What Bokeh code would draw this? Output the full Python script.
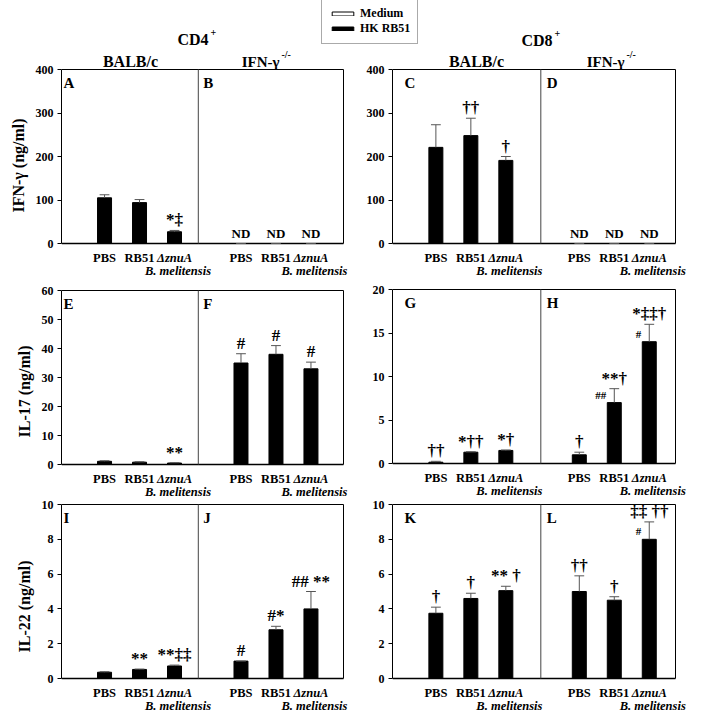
from bokeh.plotting import figure
from bokeh.models import Range1d, FixedTicker, Legend, LegendItem, ColumnDataSource
from bokeh.layouts import column, row
from bokeh.embed import file_html
from bokeh.resources import INLINE
from bokeh.core.properties import value

FONT = "Liberation Serif"

# ---------------- data ----------------
categories = ["PBS", "RB51", "ΔznuA"]
category_styles = ["bold", "bold", "bold italic"]
species_note = "B. melitensis"
series_names = ["Medium", "HK RB51"]
medium_values = [0, 0, 0]
group_titles = ["CD4", "CD8"]
strain_titles = ["BALB/c", "IFN-γ"]
ko_superscript = "-/-"

# IFN-gamma (ng/ml)
cd4_ifng_balb = [105, 94, 27]
cd4_ifng_balb_err = [7, 7, 3]
cd4_ifng_ko = [0, 0, 0]          # ND
cd4_ifng_ko_err = [0, 0, 0]
cd8_ifng_balb = [221, 248, 191]
cd8_ifng_balb_err = [52, 40, 9]
cd8_ifng_ko = [0, 0, 0]          # ND
cd8_ifng_ko_err = [0, 0, 0]

# IL-17 (ng/ml)
cd4_il17_balb = [1.1, 0.8, 0.5]
cd4_il17_balb_err = [0.2, 0.15, 0.1]
cd4_il17_ko = [35, 38, 33]
cd4_il17_ko_err = [3.2, 3.0, 2.3]
cd8_il17_balb = [0.15, 1.3, 1.5]
cd8_il17_balb_err = [0.1, 0.05, 0.05]
cd8_il17_ko = [1.0, 7.0, 14.0]
cd8_il17_ko_err = [0.3, 1.6, 2.0]

# IL-22 (ng/ml)
cd4_il22_balb = [0.36, 0.52, 0.72]
cd4_il22_balb_err = [0.03, 0.02, 0.05]
cd4_il22_ko = [1.0, 2.8, 4.0]
cd4_il22_ko_err = [0.0, 0.2, 1.0]
cd8_il22_balb = [3.75, 4.6, 5.05]
cd8_il22_balb_err = [0.35, 0.3, 0.25]
cd8_il22_ko = [5.0, 4.5, 8.0]
cd8_il22_ko_err = [0.9, 0.2, 1.0]

# significance marks
marks_A = ["", "", "*‡"]
marks_B = ["", "", ""]
marks_C = ["", "††", "†"]
marks_D = ["", "", ""]
marks_E = ["", "", "**"]
marks_F = ["#", "#", "#"]
marks_G = ["††", "*††", "*†"]
marks_H = ["†", "**†", "*‡‡†"]
side_H = ["", "##", "#"]
marks_I = ["", "**", "**‡‡"]
marks_J = ["#", "#*", "## **"]
marks_K = ["†", "†", "** †"]
marks_L = ["††", "†", "‡‡ ††"]
side_L = ["", "", "#"]
nd_text = "ND"

# ---------------- layout helpers ----------------
LEFT = dict(width=355, bl=61, frame_w=282, xr=(-0.23, 7.83), divider=3.68,
            offsets=(0.0, 3.9), letter_dx=(2, 5), frame_left=61,
            balb_x=130, ko_right=279)
RIGHT = dict(width=341, bl=37, frame_w=283, xr=(-0.24, 7.85), divider=4.0,
             offsets=(0.0, 4.1), letter_dx=(12, 6), frame_left=392,
             balb_x=476, ko_right=624)
base_pos = [1, 2, 3]
BAR_W = 0.4
VAL_H = 174   # pixel height of the value area of every panel


def make_fig(g, height, top_ext, ymax, yticks, ylabel, panels, titles=False):
    upp = ymax / VAL_H                  # data units per pixel (vertical)
    y_end = ymax + top_ext * upp
    y_start = y_end - height * upp
    x0, x1 = g["xr"]
    xpp = (x1 - x0) / g["frame_w"]      # data units per pixel (horizontal)
    x_end = x0 + (g["width"] - g["bl"]) * xpp
    p = figure(width=g["width"], height=height, title=None,
               x_range=Range1d(x0, x_end), y_range=Range1d(y_start, y_end),
               x_axis_location=None,
               output_backend="svg", toolbar_location=None,
               min_border_left=g["bl"], min_border_right=0,
               min_border_top=0, min_border_bottom=0)
    p.grid.visible = False
    p.outline_line_color = None
    p.background_fill_color = "white"
    p.border_fill_color = "white"

    ya = p.yaxis[0]
    ya.ticker = FixedTicker(ticks=yticks)
    ya.bounds = (0, ymax)
    ya.major_tick_in = 0
    ya.major_tick_out = 4
    ya.minor_tick_line_color = None
    ya.axis_line_color = "black"
    ya.major_tick_line_color = "black"
    ya.major_label_text_font = FONT
    ya.major_label_text_font_style = "bold"
    ya.major_label_text_font_size = "12px"
    ya.major_label_text_color = "black"
    ya.major_label_standoff = 4
    if ylabel:
        ya.axis_label = ylabel
        ya.axis_label_text_font = FONT
        ya.axis_label_text_font_style = "bold"
        ya.axis_label_text_font_size = "16px"
        ya.axis_label_text_color = "black"
        ya.axis_label_standoff = 6

    # panel box: top and right edges, bottom axis line, divider
    p.segment(x0=[x0, x1], y0=[ymax, 0], x1=[x1, x1], y1=[ymax, ymax],
              line_color="black", line_width=1)
    p.segment(x0=[x0], y0=[0], x1=[x1], y1=[0], line_color="black", line_width=1.5)
    p.segment(x0=[g["divider"]], y0=[0], x1=[g["divider"]], y1=[ymax],
              line_color="#444444", line_width=1)

    if titles:
        def px_to_x(px):
            return x0 + (px - g["frame_left"]) * xpp
        p.text(x=[px_to_x(g["balb_x"])], y=[ymax + 8 * upp], text=[strain_titles[0]],
               text_font=value(FONT), text_font_style="bold", text_font_size="16px",
               text_align="center", text_baseline="alphabetic", text_color="black")
        p.text(x=[px_to_x(g["ko_right"])], y=[ymax + 8 * upp], text=[strain_titles[1]],
               text_font=value(FONT), text_font_style="bold", text_font_size="15px",
               text_align="right", text_baseline="alphabetic", text_color="black")
        p.text(x=[px_to_x(g["ko_right"] + 2)], y=[ymax + 15 * upp], text=[ko_superscript],
               text_font=value(FONT), text_font_style="bold", text_font_size="10px",
               text_align="left", text_baseline="alphabetic", text_color="black")

    for k, pan in enumerate(panels):
        off = g["offsets"][k]
        xs = [b + off for b in base_pos]
        xs_med = [x - BAR_W for x in xs]
        vals = pan["vals"]
        errs = pan["errs"]
        tops = [v + e for v, e in zip(vals, errs)]

        p.vbar(x=xs_med, top=medium_values, width=BAR_W,
               fill_color="white", line_color="black", line_width=1)
        p.vbar(x=xs, top=vals, width=BAR_W,
               fill_color="black", line_color="black", line_width=1)
        # error bars (upper half only)
        p.segment(x0=xs, y0=vals, x1=xs, y1=tops, line_color="#555555", line_width=1)
        p.segment(x0=[x - 0.14 for x in xs], y0=tops, x1=[x + 0.14 for x in xs], y1=tops,
                  line_color="#555555", line_width=1)

        if pan.get("nd"):
            p.text(x=xs, y=[0] * 3, text=[nd_text] * 3,
                   text_font=value(FONT), text_font_style="bold", text_font_size="13px",
                   text_align="center", text_baseline="bottom", y_offset=-3,
                   text_color="black")
        p.text(x=xs, y=tops, text=pan["marks"],
               text_font=value(FONT), text_font_style="bold", text_font_size="17px",
               text_align="center", text_baseline="bottom", y_offset=-1,
               text_color="black")
        if pan.get("side"):
            p.text(x=[x - BAR_W / 2 for x in xs], y=vals, text=pan["side"],
                   text_font=value(FONT), text_font_style="bold", text_font_size="11px",
                   text_align="right", text_baseline="bottom", x_offset=-1, y_offset=-2,
                   text_color="black")

        # panel letter
        left_edge = x0 if k == 0 else g["divider"]
        p.text(x=[left_edge], y=[ymax], text=[pan["letter"]],
               text_font=value(FONT), text_font_style="bold", text_font_size="15px",
               text_align="left", text_baseline="top",
               x_offset=g["letter_dx"][k], y_offset=5, text_color="black")

        # category labels below the axis
        src = ColumnDataSource(dict(x=xs, y=[-14.5 * upp] * 3, text=categories,
                                    style=category_styles))
        p.text(x="x", y="y", text="text", text_font_style="style", source=src,
               text_font=value(FONT), text_font_size="12.5px",
               text_align="center", text_baseline="alphabetic", text_color="black")
        p.text(x=[xs[2] + 0.1], y=[-27 * upp], text=[species_note],
               text_font=value(FONT), text_font_style="bold italic", text_font_size="12.5px",
               text_align="center", text_baseline="alphabetic", text_color="black")
    return p


# ---------------- header ----------------
HW, HH = 696, 46
hdr = figure(width=HW, height=HH, title=None, x_range=Range1d(0, HW), y_range=Range1d(HH, 0),
             output_backend="svg", toolbar_location=None,
             x_axis_location=None, y_axis_location=None,
             min_border_left=0, min_border_right=0, min_border_top=0, min_border_bottom=0)
hdr.grid.visible = False
hdr.outline_line_color = None
hdr.background_fill_color = "white"
hdr.border_fill_color = "white"

hdr.text(x=[208, 552], y=[39, 40], text=group_titles,
         text_font=value(FONT), text_font_style="bold", text_font_size="16px",
         text_align="right", text_baseline="alphabetic", text_color="black")
hdr.text(x=[210, 554], y=[32, 33], text=["+", "+"],
         text_font=value(FONT), text_font_style="bold", text_font_size="10px",
         text_align="left", text_baseline="alphabetic", text_color="black")

# legend swatch renderers (zero-size bars, only their styles are used)
r_med = hdr.vbar(x=[0], bottom=[0], top=[0], width=0, fill_color="white", line_color="black")
r_hk = hdr.vbar(x=[0], bottom=[0], top=[0], width=0, fill_color="black", line_color="black")
leg = Legend(items=[LegendItem(label=series_names[0], renderers=[r_med]),
                    LegendItem(label=series_names[1], renderers=[r_hk])],
             location=(321, 2), margin=0, padding=7, spacing=0,
             glyph_width=27, glyph_height=5, label_height=14, label_standoff=4,
             label_text_font=FONT, label_text_font_style="bold",
             label_text_font_size="12px", label_text_color="black",
             border_line_color="#555555", border_line_width=1,
             background_fill_color="white", background_fill_alpha=1.0)
hdr.add_layout(leg)

# ---------------- rows ----------------
r1L = make_fig(LEFT, 238, 23, 400, [0, 100, 200, 300, 400], "IFN-γ (ng/ml)", [
    dict(letter="A", vals=cd4_ifng_balb, errs=cd4_ifng_balb_err, marks=marks_A),
    dict(letter="B", vals=cd4_ifng_ko, errs=cd4_ifng_ko_err, marks=marks_B, nd=True)],
    titles=True)
r1R = make_fig(RIGHT, 238, 23, 400, [0, 100, 200, 300, 400], None, [
    dict(letter="C", vals=cd8_ifng_balb, errs=cd8_ifng_balb_err, marks=marks_C),
    dict(letter="D", vals=cd8_ifng_ko, errs=cd8_ifng_ko_err, marks=marks_D, nd=True)],
    titles=True)

r2L = make_fig(LEFT, 214, 6, 60, [0, 10, 20, 30, 40, 50, 60], "IL-17 (ng/ml)", [
    dict(letter="E", vals=cd4_il17_balb, errs=cd4_il17_balb_err, marks=marks_E),
    dict(letter="F", vals=cd4_il17_ko, errs=cd4_il17_ko_err, marks=marks_F)])
r2R = make_fig(RIGHT, 214, 5, 20, [0, 5, 10, 15, 20], None, [
    dict(letter="G", vals=cd8_il17_balb, errs=cd8_il17_balb_err, marks=marks_G),
    dict(letter="H", vals=cd8_il17_ko, errs=cd8_il17_ko_err, marks=marks_H, side=side_H)])

r3L = make_fig(LEFT, 216, 6, 10, [0, 2, 4, 6, 8, 10], "IL-22 (ng/ml)", [
    dict(letter="I", vals=cd4_il22_balb, errs=cd4_il22_balb_err, marks=marks_I),
    dict(letter="J", vals=cd4_il22_ko, errs=cd4_il22_ko_err, marks=marks_J)])
r3R = make_fig(RIGHT, 216, 6, 10, [0, 2, 4, 6, 8, 10], None, [
    dict(letter="K", vals=cd8_il22_balb, errs=cd8_il22_balb_err, marks=marks_K),
    dict(letter="L", vals=cd8_il22_ko, errs=cd8_il22_ko_err, marks=marks_L, side=side_L)])

layout = column(hdr, row(r1L, r1R), row(r2L, r2R), row(r3L, r3R))

open("out.html", "w").write(file_html(layout, INLINE))
